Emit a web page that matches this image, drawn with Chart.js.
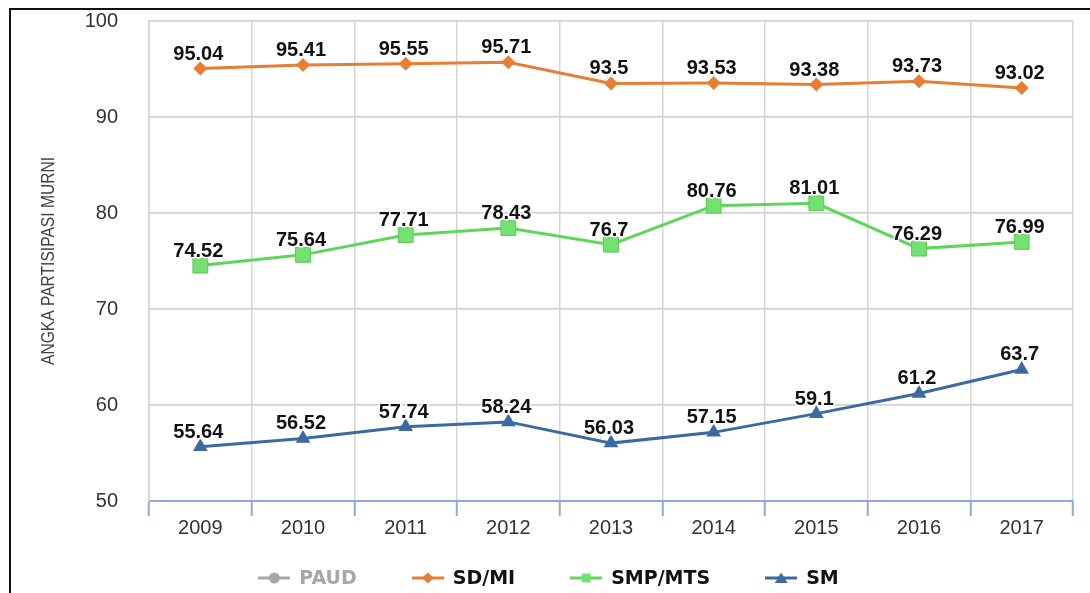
<!DOCTYPE html>
<html>
<head>
<meta charset="utf-8">
<script src="https://cdn.jsdelivr.net/npm/chart.js@4.4.1/dist/chart.umd.min.js"></script>
<style>
  html, body { margin: 0; padding: 0; background: #fff; }
</style>
</head>
<body>
<canvas id="chart" width="1090" height="593"></canvas>
<script>
// Values
const years = ['2009', '2010', '2011', '2012', '2013', '2014', '2015', '2016', '2017'];
const paud  = [null, null, null, null, null, null, null, null, null];
const sdMi  = [95.04, 95.41, 95.55, 95.71, 93.5, 93.53, 93.38, 93.73, 93.02];
const smpMts = [74.52, 75.64, 77.71, 78.43, 76.7, 80.76, 81.01, 76.29, 76.99];
const sm    = [55.64, 56.52, 57.74, 58.24, 56.03, 57.15, 59.1, 61.2, 63.7];
const yTitle = 'ANGKA PARTISIPASI MURNI';

const COLORS = {
    paud:  '#a6a6a6',
    sdMi:  '#e67e33',
    smp:   '#5fd65a',
    smpFill: '#74e070',
    sm:    '#3b6aa3'
};

// small line + marker picture used in the legend
const legendIcon = (style, color, fill) => {
    const c = document.createElement('canvas');
    c.width = 32; c.height = 16;
    const g = c.getContext('2d');
    g.strokeStyle = color;
    g.lineWidth = 3;
    g.beginPath(); g.moveTo(0, 8); g.lineTo(32, 8); g.stroke();
    g.fillStyle = fill;
    g.beginPath();
    if (style === 'circle') g.arc(16, 8, 5.5, 0, Math.PI * 2);
    else if (style === 'rectRot') { g.moveTo(16, 2.5); g.lineTo(22, 8); g.lineTo(16, 13.5); g.lineTo(10, 8); g.closePath(); }
    else if (style === 'rect') g.rect(11.5, 3.5, 9, 9);
    else { g.moveTo(16, 2.5); g.lineTo(22.5, 13); g.lineTo(9.5, 13); g.closePath(); }
    g.fill();
    return c;
};

// white background + black frame on top and left
const framePlugin = {
    id: 'frame',
    beforeDraw(chart) {
        const ctx = chart.ctx;
        ctx.save();
        ctx.fillStyle = '#fff';
        ctx.fillRect(0, 0, chart.width, chart.height);
        ctx.strokeStyle = '#111';
        ctx.lineWidth = 2;
        ctx.beginPath();
        ctx.moveTo(10, chart.height);
        ctx.lineTo(10, 9);
        ctx.lineTo(chart.width, 9);
        ctx.stroke();
        ctx.restore();
    }
};

// condensed vertical axis title
const titlePlugin = {
    id: 'yTitle',
    afterDraw(chart) {
        const ctx = chart.ctx;
        ctx.save();
        ctx.font = '19px "Liberation Sans"';
        const w = ctx.measureText(yTitle).width;
        ctx.translate(49, 261);
        ctx.rotate(-Math.PI / 2);
        ctx.scale(208 / w, 1);
        ctx.fillStyle = '#404040';
        ctx.textAlign = 'center';
        ctx.textBaseline = 'middle';
        ctx.fillText(yTitle, 0, 0);
        ctx.restore();
    }
};

// legend row at the bottom: line+marker icon, then the name
const legendRow = {
    id: 'legendRow',
    afterDraw(chart) {
        const ctx = chart.ctx;
        const iconW = 32, gap = 9, itemGap = 55;
        ctx.save();
        ctx.font = 'bold 19px "DejaVu Sans"';
        ctx.textBaseline = 'middle';
        const items = chart.data.datasets.map(ds => ({ ds, w: ctx.measureText(ds.label).width }));
        const total = items.reduce((a, it) => a + iconW + gap + it.w, 0) + itemGap * (items.length - 1);
        let x = 548.5 - total / 2;
        const y = 578;
        items.forEach(it => {
            ctx.drawImage(it.ds.icon, x, y - 8);
            ctx.fillStyle = it.ds.label === 'PAUD' ? COLORS.paud : '#111';
            ctx.fillText(it.ds.label, x + iconW + gap, y + 1);
            x += iconW + gap + it.w + itemGap;
        });
        ctx.restore();
    }
};

// value labels above each point
const valueLabels = {
    id: 'valueLabels',
    afterDatasetsDraw(chart) {
        const ctx = chart.ctx;
        ctx.save();
        ctx.font = 'bold 20px "Liberation Sans"';
        ctx.textAlign = 'center';
        ctx.textBaseline = 'alphabetic';
        ctx.lineJoin = 'round';
        chart.data.datasets.forEach((ds, i) => {
            const meta = chart.getDatasetMeta(i);
            meta.data.forEach((pt, j) => {
                const v = ds.data[j];
                if (v === null || v === undefined) return;
                const txt = String(v);
                ctx.strokeStyle = '#fff';
                ctx.lineWidth = 3;
                ctx.strokeText(txt, pt.x - 2, pt.y - 9);
                ctx.fillStyle = '#111';
                ctx.fillText(txt, pt.x - 2, pt.y - 9);
            });
        });
        ctx.restore();
    }
};

const data = {
    labels: years,
    datasets: [
        {
            label: 'PAUD', data: paud,
            borderColor: COLORS.paud, backgroundColor: COLORS.paud,
            pointStyle: 'circle', pointRadius: 6, borderWidth: 3,
            icon: legendIcon('circle', COLORS.paud, COLORS.paud)
        },
        {
            label: 'SD/MI', data: sdMi,
            borderColor: COLORS.sdMi, backgroundColor: COLORS.sdMi,
            pointStyle: 'rectRot', pointRadius: 7, pointBorderWidth: 0, borderWidth: 3,
            icon: legendIcon('rectRot', COLORS.sdMi, COLORS.sdMi)
        },
        {
            label: 'SMP/MTS', data: smpMts,
            borderColor: COLORS.smp, backgroundColor: COLORS.smpFill,
            pointBorderColor: '#5cc858',
            pointStyle: 'rect', pointRadius: 10.5, pointBorderWidth: 1, borderWidth: 3,
            icon: legendIcon('rect', COLORS.smp, COLORS.smpFill)
        },
        {
            label: 'SM', data: sm,
            borderColor: COLORS.sm, backgroundColor: COLORS.sm,
            pointStyle: 'triangle', pointRadius: 8.5, pointBorderWidth: 0, borderWidth: 3,
            icon: legendIcon('triangle', COLORS.sm, COLORS.sm)
        }
    ]
};

new Chart(document.getElementById('chart'), {
    type: 'line',
    data,
    plugins: [framePlugin, valueLabels, titlePlugin, legendRow],
    options: {
        responsive: false,
        animation: false,
        layout: { padding: { top: 21, left: 17, right: 17, bottom: 0 } },
        elements: { line: { tension: 0 } },
        plugins: {
            tooltip: { enabled: false },
            legend: { display: false }
        },
        scales: {
            x: {
                offset: true,
                afterFit: s => { s.height = 92; },
                grid: {
                    offset: true,
                    color: '#d4d4d4',
                    lineWidth: 1.5,
                    tickColor: '#8eaadb',
                    tickLength: 15,
                    tickWidth: 2
                },
                border: { color: '#8eaadb', width: 2 },
                ticks: {
                    padding: 0,
                    maxRotation: 0,
                    color: '#333',
                    font: { family: '"Liberation Sans"', size: 20 }
                }
            },
            y: {
                min: 50,
                max: 100,
                afterFit: s => { s.width = 132; },
                grid: {
                    // invisible tick marks keep the labels away from the axis
                    drawTicks: true,
                    tickLength: 31,
                    tickColor: 'rgba(0,0,0,0)',
                    color: c => (c.tick && c.tick.value % 10 === 0) ? '#d2d2d2' : '#e8e8e8',
                    lineWidth: c => (c.tick && c.tick.value % 10 === 0) ? 1.8 : 1.2
                },
                border: { color: '#d2d2d2', width: 1.5 },
                ticks: {
                    stepSize: 2,
                    padding: 0,
                    color: '#333',
                    font: { family: '"Liberation Sans"', size: 20 },
                    callback: v => (v % 10 === 0 ? v : null)
                }
            }
        }
    }
});
</script>
</body>
</html>
